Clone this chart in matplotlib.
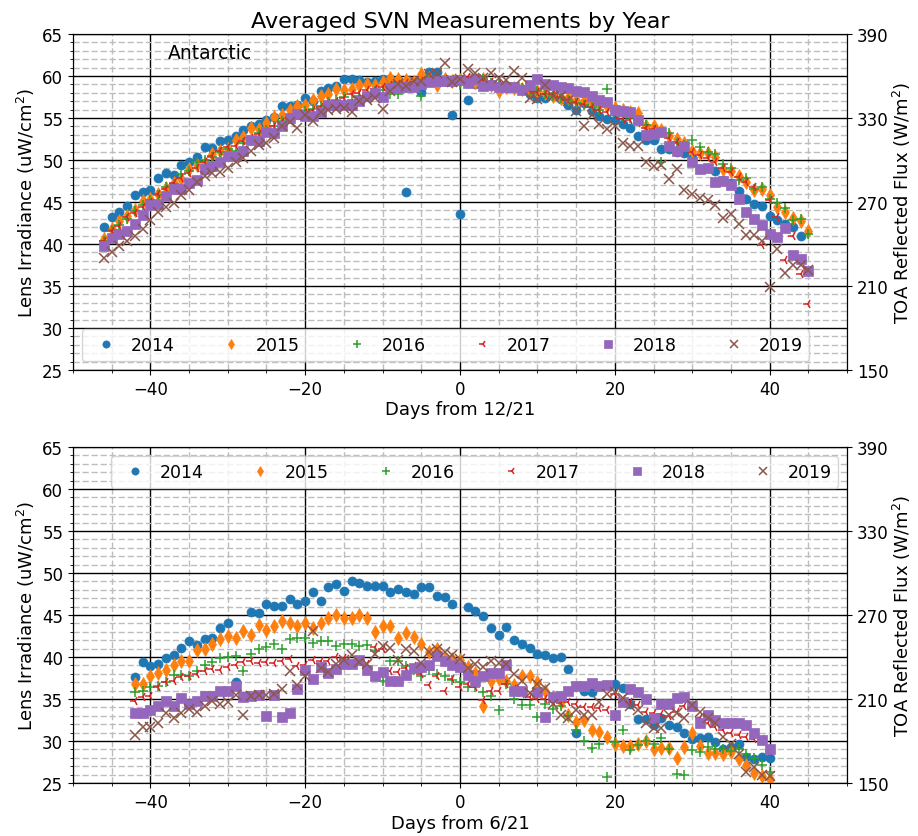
import numpy as np
import matplotlib
matplotlib.use("Agg")
import matplotlib.pyplot as plt
from matplotlib.ticker import MultipleLocator

nan = np.nan

years = ["2014", "2015", "2016", "2017", "2018", "2019"]
markers = ["o", "d", "+", "3", "s", "x"]
colors = ["#1f77b4", "#ff7f0e", "#2ca02c", "#d62728", "#9467bd", "#8c564b"]

# ---- Antarctic season: days -46 .. 45 relative to 12/21 ----
days_dec = np.arange(-46, 46)

dec_2014 = [42.0, 43.2, 43.8, 44.5, 45.8, 46.2, 46.4, 47.9, 48.5, 48.2,
            49.4, 49.8, 50.3, 51.5, 51.4, 52.2, 52.4, 52.9, 53.6, 54.1,
            54.3, 54.8, 55.1, 56.4, 56.4, 56.6, 57.4, 57.0, 58.2, 58.6,
            58.8, 59.6, 59.6, 59.5, 59.3, 59.4, 59.6, 59.7, 59.5, 46.2,
            59.4, 58.1, 60.5, 60.5, 59.6, 55.4, 43.6, 57.2, 59.0, 59.2,
            59.0, 58.8, 58.6, 58.7, 58.3, 57.8, 57.4, 57.4, 57.6, 57.3,
            56.5, 55.9, 56.8, 55.8, 55.2, 54.9, 54.8, 54.3, 53.8, 52.8,
            52.4, 52.4, 51.3, 51.3, 50.9, 50.8, 50.2, 48.9, 49.1, 48.7,
            47.6, 47.2, 46.3, 45.4, 44.8, 44.5, 43.3, 42.9, 42.4, 42.0,
            40.9, nan]
dec_2015 = [40.6, 41.8, 42.7, 43.3, 44.0, 45.1, 45.3, 46.0, 46.7, 47.2,
            47.7, 48.9, 49.4, 49.6, 50.7, 51.1, 51.3, 52.4, 52.7, 53.8,
            53.7, 54.4, 55.1, 55.4, 56.0, 56.4, 56.6, 57.1, 57.6, 57.8,
            58.4, 58.3, 58.4, 58.9, 59.0, 58.9, 59.3, 59.8, 59.6, 59.5,
            59.3, 60.2, 59.8, 58.9, 59.6, 59.4, 59.5, 59.4, 59.3, 59.6,
            58.9, 58.2, 58.7, 58.6, 58.5, 58.3, 58.2, 58.0, 57.6, 57.4,
            57.4, 57.2, 57.0, 56.8, 56.5, 56.4, 56.2, 55.9, 55.7, 55.6,
            54.1, 54.0, 53.6, 52.9, 52.5, 52.0, 51.1, 50.8, 50.8, 50.4,
            48.9, 48.7, 48.1, 47.4, 46.4, 46.5, 45.8, 44.4, 43.8, 43.1,
            42.7, 41.5]
dec_2016 = [40.4, 41.7, 42.3, 43.0, 43.9, 44.6, 45.2, 45.8, 46.8, 47.1,
            48.3, 48.7, 49.7, 50.0, 50.4, 51.0, 51.3, 51.1, 52.0, 52.2,
            53.2, 53.6, 54.1, 54.6, 55.0, 55.4, 55.8, 56.1, 56.4, 56.9,
            57.2, 57.5, 57.2, 57.6, 57.9, 58.2, 58.3, 57.9, 57.9, 58.6,
            58.8, 57.6, 59.4, 59.5, 59.3, 59.2, 58.9, 59.4, 59.6, 59.7,
            59.2, 59.0, 58.9, 58.6, 58.6, 58.2, 58.2, 57.9, 57.6, 57.4,
            57.2, 56.8, 56.6, 56.3, 56.0, 58.4, 55.8, 55.2, 55.0, 54.8,
            54.2, 53.6, 49.8, 53.2, 52.0, 51.8, 52.4, 51.5, 51.0, 50.7,
            49.5, 49.1, 47.6, 47.8, 46.6, 46.8, 45.4, 44.9, 44.3, 42.9,
            43.0, 41.2]
dec_2017 = [40.3, 41.5, 42.1, 43.2, 43.7, 44.4, 45.0, 45.9, 46.5, 47.3,
            47.8, 48.5, 49.0, 49.7, 50.5, 51.1, 51.5, 51.7, 52.2, 52.6,
            53.1, 53.5, 54.0, 54.5, 54.9, 55.2, 55.6, 56.0, 56.3, 56.8,
            57.0, 57.4, 57.8, 58.0, 58.3, 58.5, 58.7, 58.9, 59.0, 59.2,
            59.3, 59.4, 59.6, 59.9, 59.7, 59.6, 59.6, 59.9, 59.6, 59.5,
            59.3, 59.1, 58.9, 58.7, 58.5, 58.3, 58.1, 57.9, 57.8, 57.5,
            57.2, 56.9, 56.7, 56.3, 56.0, 55.7, 55.3, 54.9, 54.8, 54.4,
            53.8, 53.7, 53.2, 52.6, 52.1, 51.5, 51.0, 50.6, 50.2, 49.8,
            49.1, 48.6, 48.0, 47.4, 46.8, 39.9, 45.2, 43.2, 38.1, 41.0,
            36.4, 32.8]
dec_2018 = [39.8, 40.7, 41.2, 41.5, 42.4, 43.4, 44.6, 44.7, 45.7, 46.5,
            46.6, 47.2, 47.6, 48.9, 49.3, 49.8, 50.5, 50.5, 51.1, 52.4,
            52.3, 53.3, 53.2, 54.0, 55.0, 55.5, 55.2, 55.2, 55.7, 56.5,
            56.5, 56.6, 56.6, 57.0, 57.6, 58.0, 57.5, 58.6, 58.6, 58.7,
            58.7, 59.0, 59.3, 59.4, 59.4, 59.4, 59.5, 59.2, 59.7, 58.8,
            58.9, 58.7, 58.7, 58.7, 58.3, 58.9, 59.7, 59.0, 58.9, 58.7,
            58.6, 58.2, 58.1, 57.6, 57.2, 56.9, 56.0, 55.8, 55.7, 54.8,
            53.0, 53.1, 53.3, 51.7, 51.1, 51.7, 49.7, 48.9, 49.1, 47.4,
            47.5, 47.0, 45.3, 43.8, 43.0, 42.3, 41.2, 40.8, 41.9, 38.7,
            38.2, 36.8]
dec_2019 = [38.3, 39.0, 39.8, 40.4, 41.0, 41.8, 42.8, 43.8, 44.4, 44.9,
            45.8, 46.4, 47.4, 48.1, 48.5, 48.6, 49.1, 49.7, 50.2, 51.1,
            51.8, 52.0, 52.6, 54.0, 54.5, 53.8, 55.4, 54.6, 55.7, 56.0,
            56.1, 56.2, 55.7, 57.0, 57.2, 57.4, 56.1, 58.2, 59.0, 58.8,
            59.4, 59.4, 60.2, 60.4, 61.5, 59.3, 59.6, 60.8, 60.3, 59.8,
            60.3, 59.8, 59.5, 60.6, 59.8, 57.4, 57.3, 58.9, 57.6, 57.6,
            57.0, 55.8, 54.0, 55.3, 54.3, 53.7, 54.1, 52.0, 51.7, 51.7,
            49.8, 49.3, 49.4, 47.7, 48.9, 46.4, 46.0, 45.5, 45.2, 44.6,
            43.1, 43.6, 42.4, 41.1, 41.1, 40.4, 34.9, 39.4, 36.6, 37.5,
            37.5, 36.9]

# ---- Arctic season: days -42 .. 40 relative to 6/21 ----
days_jun = np.arange(-42, 41)

jun_2014 = [37.6, 39.4, 38.9, 39.2, 39.9, 40.2, 41.1, 41.9, 41.4, 42.1,
            42.3, 43.4, 44.0, 37.0, 35.4, 45.4, 45.3, 46.3, 46.1, 46.1,
            46.9, 46.3, 46.7, 47.7, 46.7, 48.3, 48.7, 47.9, 49.0, 48.8,
            48.4, 48.4, 48.4, 47.7, 48.1, 47.7, 47.5, 48.3, 48.3, 47.3,
            47.1, 46.3, nan, 45.9, 45.5, 44.9, 43.5, 42.6, 43.6, 42.0,
            41.5, 41.1, 40.4, 40.2, 39.9, 40.0, 38.6, 30.9, 36.0, 35.8,
            nan, nan, 36.8, 36.3, 34.4, 32.6, 32.6, 31.9, 32.7, 31.9,
            31.7, 31.0, 30.2, 30.4, 30.5, 29.9, 29.0, 29.3, 29.6, 28.1,
            27.9, 28.1, 28.0]
jun_2015 = [36.8, 36.8, 37.7, 38.1, 38.5, 39.0, 39.5, 39.5, 40.8, 41.0,
            41.6, 42.1, 42.5, 42.3, 43.1, 42.6, 43.8, 43.2, 43.7, 44.3,
            44.0, 43.7, 44.0, 43.5, 44.0, 44.7, 45.0, 44.7, 44.7, 45.0,
            44.7, 43.0, 43.7, 43.7, 42.3, 42.9, 42.4, 41.5, 40.6, 41.0,
            39.8, 39.8, 39.6, 38.8, 38.1, 34.2, 37.2, 37.4, 37.1, 36.7,
            37.8, 37.8, 37.0, 36.0, 35.2, 34.6, 33.1, 32.3, 32.5, 31.3,
            31.1, 30.5, 29.7, 29.4, 29.4, 29.7, 30.0, 29.0, 29.2, 29.2,
            28.0, 29.3, 31.0, 29.4, 28.6, 28.6, 28.4, 28.7, 27.8, 27.1,
            26.2, 25.8, 25.5]
jun_2016 = [35.8, 35.9, 36.4, 36.6, 37.0, 37.9, 37.9, 37.8, 38.3, 39.1,
            39.4, 39.9, 40.0, 40.1, 38.3, 40.4, 41.0, 41.2, 41.5, 41.0,
            42.2, 42.3, 42.3, 41.7, 41.9, 41.9, 41.3, 41.5, 41.5, 41.3,
            41.4, 40.7, 37.2, 39.5, 39.5, 38.9, 38.5, 37.8, 38.4, 38.0,
            37.7, 37.3, 37.0, 36.4, 36.4, 35.8, 35.4, 33.7, 36.8, 35.0,
            34.3, 34.3, 32.9, 34.4, 33.8, 34.2, 33.0, 31.3, 30.0, 29.2,
            29.6, 25.7, 29.9, 31.3, 28.9, 29.5, 30.0, 29.6, 30.4, 29.0,
            26.1, 26.0, 28.9, 28.7, 29.3, 29.0, 29.1, 28.8, 29.1, 28.5,
            28.0, 27.1, 26.3]
jun_2017 = [34.8, 35.2, 35.4, 36.4, 37.0, 37.2, 37.6, 37.8, 38.0, 38.3,
            38.6, 38.5, 38.8, 39.1, 39.4, 39.5, 39.3, 39.4, 39.3, 39.5,
            39.8, 38.9, 39.0, 39.7, 39.5, 39.5, 40.0, 39.9, 39.3, 39.4,
            39.2, 41.2, 41.0, 38.3, 38.2, 38.7, 38.9, 38.0, 36.7, 37.8,
            35.9, 37.4, 36.4, 36.8, 36.4, 34.9, 35.9, 35.9, 36.8, 36.2,
            35.6, 35.3, 35.0, 35.0, 34.6, 34.5, 34.7, 34.4, 34.0, 34.0,
            33.9, 33.7, 35.6, 35.0, 34.6, 34.3, 33.5, 33.3, 33.2, 33.0,
            33.5, 34.2, 34.0, 32.8, 32.2, 31.7, 31.3, 31.0, 30.7, 30.5,
            30.3, 30.3, 28.7]
jun_2018 = [33.3, 33.3, 33.7, 34.2, 34.8, 34.2, 35.1, 34.4, 34.8, 35.4,
            35.4, 36.0, 36.0, 36.6, 35.2, 35.4, 35.5, 33.0, 35.5, 32.9,
            33.3, 36.2, 38.5, 37.4, 38.8, 38.1, 38.6, 39.2, 39.2, 39.6,
            38.4, 37.7, 38.2, 37.1, 37.2, 37.9, 38.7, 38.8, 39.1, 40.1,
            39.5, 39.1, 38.8, 37.9, 37.2, 37.8, 38.1, 38.1, 39.1, 35.9,
            35.9, nan, 35.8, 32.9, 35.2, 35.4, 35.9, 36.5, 36.6, 36.9,
            36.5, 36.7, 33.1, 34.6, 36.2, 35.8, 35.0, 32.7, 34.4, 34.4,
            35.1, 35.2, 34.2, 32.2, 33.1, 32.5, 32.2, 32.1, 32.2, 31.9,
            31.0, 30.1, 29.1]
jun_2019 = [30.7, 31.7, 31.7, 32.2, 33.3, 32.7, 33.3, 33.8, 33.4, 34.2,
            34.8, 34.4, 34.7, 35.5, 33.1, 35.4, 35.5, 35.5, 35.6, 36.2,
            38.3, 36.7, 37.8, 43.1, 38.7, 38.2, 39.2, 39.7, 40.2, 39.4,
            39.2, 40.4, 41.3, 41.1, 39.6, 40.9, 40.7, 39.3, 40.6, 40.9,
            40.6, 40.2, 39.8, 38.7, 39.2, 38.8, 39.5, 39.3, 39.2, 38.0,
            37.2, 35.7, 36.8, 36.3, 34.4, 33.1, 32.7, 33.7, 33.1, 33.1,
            34.6, 35.6, 35.8, 35.1, 34.2, 33.7, 32.1, 31.5, 31.5, 33.1,
            33.3, 32.7, 34.3, 33.5, 32.8, 32.1, 30.5, 29.7, 28.5, 26.3,
            26.9, 25.9, 25.8]

dec_series = [dec_2014, dec_2015, dec_2016, dec_2017, dec_2018, dec_2019]
jun_series = [jun_2014, jun_2015, jun_2016, jun_2017, jun_2018, jun_2019]

TICK_FS = 12
LABEL_FS = 13
LEGEND_FS = 12.5

fig = plt.figure(figsize=(9.18, 8.37), dpi=100)
ax_top = fig.add_axes([0.0795, 0.5568, 0.8432, 0.4014])
ax_bot = fig.add_axes([0.0795, 0.0633, 0.8432, 0.4014])


def draw_panel(ax, days, series, xlabel):
    for vals, yr, m, c in zip(series, years, markers, colors):
        ms = 6.5 if m in ("o", "s") else 7
        ax.plot(days, vals, linestyle="none", marker=m, color=c,
                markersize=ms, markeredgewidth=1.1 if m in ("+", "x", "3") else 0.5,
                label=yr)
    ax.set_xlim(-50, 50)
    ax.set_ylim(25, 65)
    ax.xaxis.set_major_locator(MultipleLocator(20))
    ax.xaxis.set_minor_locator(MultipleLocator(5))
    ax.yaxis.set_major_locator(MultipleLocator(5))
    ax.yaxis.set_minor_locator(MultipleLocator(1))
    ax.set_axisbelow(True)
    ax.grid(which="major", color="black", linestyle="-", linewidth=1.0)
    ax.grid(which="minor", color="#bdbdbd", linestyle=(0, (4.5, 2.0)), linewidth=1.0)
    ax.tick_params(labelsize=TICK_FS)
    ax.set_xlabel(xlabel, fontsize=LABEL_FS, labelpad=2)
    ax.set_ylabel("Lens Irradiance (uW/cm$^2$)", fontsize=LABEL_FS, labelpad=4)

    flux = ax.twinx()
    flux.set_ylim(150, 390)
    flux.set_yticks(np.arange(150, 391, 60))
    flux.tick_params(labelsize=TICK_FS)
    flux.set_ylabel("TOA Reflected Flux (W/m$^2$)", fontsize=LABEL_FS, labelpad=2)
    return flux


draw_panel(ax_top, days_dec, dec_series, "Days from 12/21")
draw_panel(ax_bot, days_jun, jun_series, "Days from 6/21")

legend_kw = dict(ncol=6, fontsize=LEGEND_FS, markerscale=0.8,
                 handlelength=2.0, handletextpad=0.4, columnspacing=2.3)
ax_top.legend(loc="lower left", **legend_kw)
ax_bot.legend(loc="upper right", **legend_kw)
ax_top.text(0.123, 0.946, "Antarctic", transform=ax_top.transAxes,
            fontsize=13.5, va="center", ha="left")
ax_top.set_title("Averaged SVN Measurements by Year", fontsize=16, pad=5)

fig.savefig("out.png", dpi=100)
